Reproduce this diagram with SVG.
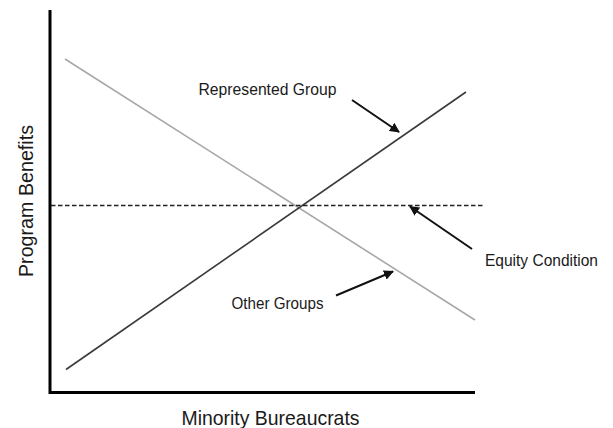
<svg xmlns="http://www.w3.org/2000/svg" width="613" height="428" viewBox="0 0 613 428">
<defs>
<style>
.lbl{font-family:"Liberation Sans",Arial,sans-serif;fill:#1a1a1a;}
.ax{stroke:#000;stroke-width:3;fill:none;}
.ptr{stroke:#111;stroke-width:2;fill:none;marker-end:url(#ah);}
</style>
<marker id="ah" viewBox="0 0 10 10" refX="9" refY="5" markerWidth="5" markerHeight="5" orient="auto" markerUnits="strokeWidth">
<path d="M0,0 L10,5 L0,10 z" fill="#111"/>
</marker>
</defs>
<rect width="613" height="428" fill="#fff"/>
<g id="axes">
<path class="ax" d="M50,10 V392.5 H475"/>
</g>
<g id="other-groups-line">
<line x1="65" y1="59" x2="475" y2="320" stroke="#a8a8a8" stroke-width="1.6"/>
</g>
<g id="represented-group-line">
<line x1="66" y1="369.5" x2="466" y2="92" stroke="#3a3a3a" stroke-width="1.6"/>
</g>
<g id="equity-line">
<line x1="51" y1="205.5" x2="484" y2="205.5" stroke="#222" stroke-width="1.4" stroke-dasharray="4.5,2.5"/>
</g>
<g id="connectors">
<line class="ptr" x1="352" y1="100" x2="399" y2="132"/>
<line class="ptr" x1="472" y1="249" x2="410" y2="206.5"/>
<line class="ptr" x1="336" y1="295.5" x2="393" y2="271.5"/>
</g>
<g id="label-represented">
<text class="lbl" x="198.5" y="95" font-size="16.5" textLength="138" lengthAdjust="spacingAndGlyphs">Represented Group</text>
</g>
<g id="label-equity">
<text class="lbl" x="485" y="266" font-size="16.5" textLength="113" lengthAdjust="spacingAndGlyphs">Equity Condition</text>
</g>
<g id="label-other">
<text class="lbl" x="231.5" y="308.5" font-size="16.5" textLength="92" lengthAdjust="spacingAndGlyphs">Other Groups</text>
</g>
<g id="label-x">
<text class="lbl" x="181.5" y="425" font-size="21" textLength="178" lengthAdjust="spacingAndGlyphs">Minority Bureaucrats</text>
</g>
<g id="label-y">
<text class="lbl" transform="translate(33,277) rotate(-90)" x="0" y="0" font-size="21" textLength="152" lengthAdjust="spacingAndGlyphs">Program Benefits</text>
</g>
</svg>
